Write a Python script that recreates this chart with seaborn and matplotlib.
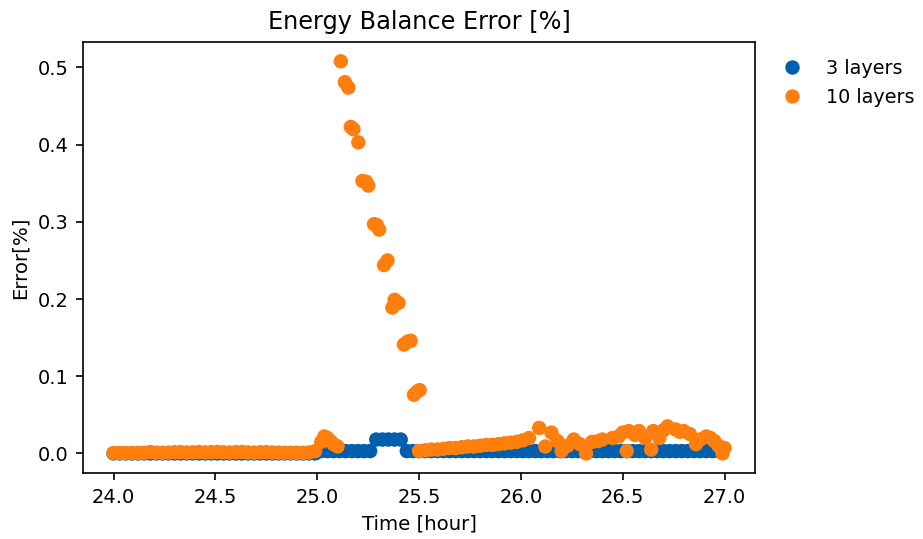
import numpy as np
import pandas as pd
import matplotlib
matplotlib.use("Agg")
import matplotlib.pyplot as plt
import seaborn as sns

# ---- data ----
t_blue = [24.00, 24.03, 24.06, 24.09, 24.12, 24.15, 24.18, 24.21, 24.24, 24.27,
          24.30, 24.33, 24.36, 24.39, 24.42, 24.45, 24.48, 24.51, 24.54, 24.57,
          24.60, 24.63, 24.66, 24.69, 24.72, 24.75, 24.78, 24.81, 24.84, 24.87,
          24.90, 24.93, 24.96, 24.99,
          25.02, 25.05, 25.08, 25.11, 25.14, 25.17, 25.20, 25.23, 25.26,
          25.29, 25.32, 25.35, 25.38, 25.41,
          25.44, 25.47, 25.50, 25.53, 25.56, 25.59, 25.62, 25.65, 25.68, 25.71,
          25.74, 25.77, 25.80, 25.83, 25.86, 25.89, 25.92, 25.95, 25.98, 26.01,
          26.04, 26.07, 26.10, 26.13, 26.16, 26.19, 26.22, 26.25, 26.28, 26.31,
          26.34, 26.37, 26.40, 26.43, 26.46, 26.49, 26.52, 26.55, 26.58, 26.61,
          26.64, 26.67, 26.70, 26.73, 26.76, 26.79, 26.82, 26.85, 26.88, 26.91,
          26.94, 26.97]
v_blue = [0.000, 0.000, 0.000, 0.000, 0.000, 0.000, 0.000, 0.000, 0.000, 0.000,
          0.000, 0.000, 0.000, 0.000, 0.000, 0.000, 0.000, 0.000, 0.000, 0.000,
          0.000, 0.000, 0.000, 0.000, 0.000, 0.000, 0.000, 0.000, 0.000, 0.000,
          0.000, 0.000, 0.000, 0.000,
          0.003, 0.003, 0.003, 0.003, 0.003, 0.003, 0.003, 0.003, 0.003,
          0.018, 0.018, 0.018, 0.018, 0.018,
          0.003, 0.003, 0.003, 0.003, 0.003, 0.003, 0.003, 0.003, 0.003, 0.003,
          0.003, 0.003, 0.003, 0.003, 0.003, 0.003, 0.003, 0.003, 0.003, 0.003,
          0.003, 0.003, 0.003, 0.003, 0.003, 0.003, 0.003, 0.003, 0.003, 0.003,
          0.003, 0.003, 0.003, 0.003, 0.003, 0.003, 0.003, 0.003, 0.003, 0.003,
          0.003, 0.003, 0.003, 0.003, 0.003, 0.003, 0.003, 0.003, 0.003, 0.003,
          0.003, 0.003]

t_orange = [24.00, 24.03, 24.06, 24.09, 24.12, 24.15, 24.18, 24.21, 24.24, 24.27,
            24.30, 24.33, 24.36, 24.39, 24.42, 24.45, 24.48, 24.51, 24.54, 24.57,
            24.60, 24.63, 24.66, 24.69, 24.72, 24.75, 24.78, 24.81, 24.84, 24.87,
            24.90, 24.93, 24.96, 24.99,
            25.020, 25.035, 25.050, 25.065, 25.080, 25.100,
            25.116, 25.136, 25.153, 25.165, 25.178, 25.202, 25.222, 25.240, 25.251,
            25.279, 25.292, 25.304, 25.328, 25.345, 25.369, 25.380, 25.399,
            25.426, 25.445, 25.459, 25.475, 25.490, 25.503,
            25.50, 25.53, 25.56, 25.59, 25.62, 25.65, 25.68, 25.71, 25.74, 25.77,
            25.80, 25.83, 25.86, 25.89, 25.92, 25.95, 25.98, 26.01, 26.04,
            26.09, 26.12, 26.15, 26.18, 26.20, 26.23, 26.26, 26.29, 26.32, 26.35,
            26.38, 26.40, 26.45, 26.48, 26.50, 26.52, 26.53, 26.56, 26.58, 26.61,
            26.64, 26.65, 26.68, 26.70, 26.72, 26.76, 26.78, 26.80, 26.83, 26.86,
            26.88, 26.91, 26.93, 26.95, 26.97, 26.99, 27.00]
v_orange = [0.0005, 0.0005, 0.0006, 0.0005, 0.0007, 0.0008, 0.0018, 0.0010, 0.0009, 0.0011,
            0.0015, 0.0017, 0.0012, 0.0014, 0.0018, 0.0013, 0.0016, 0.0019, 0.0014, 0.0012,
            0.0017, 0.0019, 0.0013, 0.0011, 0.0015, 0.0017, 0.0012, 0.0010, 0.0009, 0.0008,
            0.0008, 0.0009, 0.0012, 0.0030,
            0.015, 0.022, 0.020, 0.016, 0.012, 0.009,
            0.508, 0.481, 0.474, 0.423, 0.420, 0.403, 0.353, 0.352, 0.347,
            0.297, 0.296, 0.290, 0.244, 0.250, 0.189, 0.199, 0.195,
            0.141, 0.145, 0.146, 0.076, 0.080, 0.082,
            0.003, 0.004, 0.005, 0.005, 0.006, 0.007, 0.007, 0.008, 0.009, 0.009,
            0.010, 0.011, 0.011, 0.012, 0.013, 0.014, 0.015, 0.017, 0.020,
            0.033, 0.009, 0.027, 0.016, 0.003, 0.010, 0.018, 0.012, 0.000, 0.015,
            0.016, 0.018, 0.020, 0.022, 0.027, 0.003, 0.029, 0.024, 0.029, 0.020,
            0.005, 0.029, 0.020, 0.030, 0.035, 0.031, 0.028, 0.029, 0.025, 0.012,
            0.018, 0.022, 0.020, 0.016, 0.010, 0.000, 0.007]

labels = ["3 layers", "10 layers"]
colors = {"3 layers": "#005fad", "10 layers": "#ff7f0e"}

df = pd.DataFrame({
    "Time": t_blue + t_orange,
    "Error": v_blue + v_orange,
    "Series": [labels[0]] * len(t_blue) + [labels[1]] * len(t_orange),
})

fig = plt.figure(figsize=(923 / 150, 539 / 150), dpi=150)
ax = fig.add_axes([0.0899, 0.1224, 0.7282, 0.8002])
sns.scatterplot(data=df, x="Time", y="Error", hue="Series", hue_order=labels,
                palette=colors, s=48, linewidth=0, ax=ax, legend=True)

ax.set_title("Energy Balance Error [%]", fontsize=11.5)
ax.set_xlabel("Time [hour]", fontsize=9.5)
ax.set_ylabel("Error[%]", fontsize=9.5)
ax.set_xticks([24.0, 24.5, 25.0, 25.5, 26.0, 26.5, 27.0])
ax.set_yticks([0.0, 0.1, 0.2, 0.3, 0.4, 0.5])
ax.tick_params(labelsize=9.3)

handles, lbls = ax.get_legend_handles_labels()
ax.legend(handles, lbls, loc="upper left", bbox_to_anchor=(1.0, 1.0),
          frameon=False, fontsize=9.2)

fig.savefig("out.png", dpi=150)
